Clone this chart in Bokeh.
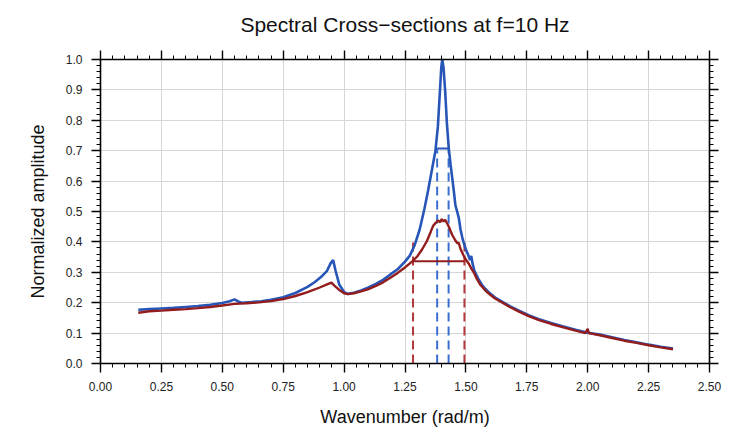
from bokeh.plotting import figure
from bokeh.models import LinearAxis, Range1d, FixedTicker, NumeralTickFormatter
from bokeh.embed import file_html
from bokeh.resources import INLINE

# ---------------- data ----------------
k_blue = [0.155, 0.20, 0.25, 0.30, 0.35, 0.40, 0.45, 0.50, 0.53, 0.55, 0.565, 0.58,
          0.62, 0.66, 0.70, 0.75, 0.80, 0.85, 0.88, 0.91, 0.93, 0.945, 0.955, 0.965,
          0.98, 1.00, 1.015, 1.04, 1.07, 1.10, 1.13, 1.16, 1.19, 1.22, 1.25, 1.27,
          1.29, 1.31, 1.33, 1.345, 1.36, 1.375, 1.385, 1.393, 1.399, 1.403, 1.408,
          1.415, 1.422, 1.43, 1.437, 1.444, 1.45, 1.457, 1.464, 1.471, 1.478, 1.485,
          1.49, 1.50, 1.51, 1.517, 1.522, 1.527, 1.535, 1.55, 1.565, 1.58, 1.60,
          1.62, 1.65, 1.68, 1.72, 1.76, 1.80, 1.85, 1.90, 1.95, 2.00, 2.05, 2.10,
          2.15, 2.20, 2.25, 2.30, 2.35]
a_blue = [0.177, 0.179, 0.181, 0.183, 0.186, 0.189, 0.193, 0.199, 0.205, 0.211, 0.204, 0.200,
          0.202, 0.205, 0.210, 0.218, 0.232, 0.252, 0.268, 0.288, 0.305, 0.330, 0.340, 0.305,
          0.260, 0.235, 0.229, 0.233, 0.240, 0.250, 0.262, 0.275, 0.293, 0.310, 0.335, 0.355,
          0.390, 0.440, 0.510, 0.570, 0.635, 0.700, 0.780, 0.890, 0.975, 1.000, 0.975,
          0.895, 0.790, 0.705, 0.655, 0.610, 0.570, 0.520, 0.500, 0.478, 0.440, 0.415,
          0.400, 0.375, 0.356, 0.340, 0.354, 0.330, 0.305, 0.280, 0.260, 0.245, 0.230,
          0.217, 0.203, 0.189, 0.173, 0.158, 0.146, 0.133, 0.122, 0.111, 0.101, 0.095, 0.086,
          0.077, 0.070, 0.062, 0.055, 0.049]

k_red = [0.155, 0.20, 0.25, 0.30, 0.35, 0.40, 0.45, 0.50, 0.55, 0.60, 0.65, 0.70,
         0.75, 0.80, 0.85, 0.90, 0.93, 0.948, 0.96, 0.98, 1.00, 1.015, 1.04, 1.07,
         1.10, 1.13, 1.16, 1.19, 1.22, 1.25, 1.28, 1.30, 1.32, 1.34, 1.355, 1.365,
         1.375, 1.385, 1.395, 1.40, 1.408, 1.415, 1.422, 1.43, 1.437, 1.445, 1.455,
         1.465, 1.47, 1.478, 1.49, 1.50, 1.512, 1.522, 1.532, 1.545, 1.56, 1.58,
         1.60, 1.62, 1.65, 1.68, 1.72, 1.76, 1.80, 1.85, 1.90, 1.95, 1.99, 2.00,
         2.005, 2.05, 2.10, 2.15, 2.20, 2.25, 2.30, 2.35]
a_red = [0.167, 0.172, 0.174, 0.177, 0.179, 0.182, 0.186, 0.191, 0.196, 0.198, 0.201, 0.205,
         0.212, 0.222, 0.235, 0.250, 0.260, 0.266, 0.256, 0.242, 0.231, 0.228, 0.231, 0.237,
         0.245, 0.255, 0.267, 0.282, 0.298, 0.316, 0.336, 0.352, 0.375, 0.403, 0.432, 0.452,
         0.462, 0.470, 0.465, 0.475, 0.467, 0.473, 0.462, 0.450, 0.436, 0.421, 0.407,
         0.395, 0.398, 0.377, 0.356, 0.341, 0.328, 0.313, 0.300, 0.278, 0.258, 0.240,
         0.226, 0.214, 0.200, 0.186, 0.170, 0.155, 0.143, 0.130, 0.119, 0.108, 0.100, 0.114,
         0.100, 0.093, 0.084, 0.075, 0.068, 0.060, 0.053, 0.047]

# half-power bandwidth markers
blue_band = [1.382, 1.429]
blue_level = 0.707
red_band = [1.283, 1.494]
red_level = 0.336
red_dash_top = 0.40

x_ticks = [0.0, 0.25, 0.5, 0.75, 1.0, 1.25, 1.5, 1.75, 2.0, 2.25, 2.5]
y_ticks = [0.0, 0.1, 0.2, 0.3, 0.4, 0.5, 0.6, 0.7, 0.8, 0.9, 1.0]

TITLE = "Spectral Cross\u2212sections at f=10 Hz"

BLUE = "#2756b8"
RED = "#931c1c"
BLUE_D = "#3a6fd0"
RED_D = "#b3383a"
FONT = "Liberation Sans"

p = figure(width=744, height=432, output_backend="svg", toolbar_location=None,
           x_range=Range1d(0, 2.5), y_range=Range1d(0, 1.0),
           min_border_left=100, min_border_right=35, min_border_top=59,
           min_border_bottom=69, background_fill_color="white",
           border_fill_color="white")
p.outline_line_color = None
p.title.text = ""
p.title.standoff = 0
p.title.visible = False

x_minor = [i * 0.05 for i in range(51)]
y_minor = [i * 0.02 for i in range(51)]

def style_axis(ax, show_labels):
    ax.axis_line_color = "black"
    ax.axis_line_width = 1.6
    ax.major_tick_line_color = "black"
    ax.major_tick_line_width = 1.4
    ax.minor_tick_line_color = "black"
    ax.minor_tick_line_width = 1.0
    ax.major_tick_out = 9
    ax.major_tick_in = 0
    ax.minor_tick_out = 4
    ax.minor_tick_in = 0
    ax.major_label_text_font = FONT
    ax.axis_label_text_font = FONT
    ax.axis_label_text_font_size = "18px"
    ax.axis_label_text_font_style = "normal"
    ax.axis_label_text_color = "#111111"
    if show_labels:
        ax.major_label_text_font_size = "12px"
        ax.major_label_text_color = "#222222"
    else:
        ax.major_label_text_font_size = "8px"
        ax.major_label_text_color = None
        ax.major_label_standoff = 0

xb = p.xaxis[0]
xb.ticker = FixedTicker(ticks=x_ticks, minor_ticks=x_minor)
xb.formatter = NumeralTickFormatter(format="0.00")
xb.axis_label = "Wavenumber (rad/m)"
style_axis(xb, True)
xb.major_label_standoff = 9
xb.axis_label_standoff = 13

yl = p.yaxis[0]
yl.ticker = FixedTicker(ticks=y_ticks, minor_ticks=y_minor)
yl.formatter = NumeralTickFormatter(format="0.0")
yl.axis_label = "Normalized amplitude"
style_axis(yl, True)
yl.major_label_standoff = 9
yl.axis_label_standoff = 15

# top axis: ticks only, carries the chart title as its label
xt = LinearAxis(ticker=FixedTicker(ticks=x_ticks, minor_ticks=x_minor))
style_axis(xt, False)
xt.axis_label = TITLE
xt.axis_label_text_font_size = "21px"
xt.axis_label_standoff = 15
p.add_layout(xt, "above")

yr = LinearAxis(ticker=FixedTicker(ticks=y_ticks, minor_ticks=y_minor))
style_axis(yr, False)
p.add_layout(yr, "right")

p.xgrid.ticker = FixedTicker(ticks=x_ticks)
p.ygrid.ticker = FixedTicker(ticks=y_ticks)
for g in (p.xgrid, p.ygrid):
    g.grid_line_color = "#d6d6d6"
    g.grid_line_width = 1

# dashed vertical markers
p.segment(x0=red_band, y0=[0, 0], x1=red_band, y1=[red_dash_top] * 2,
          line_color=RED_D, line_width=2, line_dash="9 5")
p.segment(x0=blue_band, y0=[0, 0], x1=blue_band, y1=[blue_level] * 2,
          line_color=BLUE_D, line_width=2, line_dash="9 5")

# curves
p.line(k_blue, a_blue, line_color=BLUE, line_width=2.6)
p.line(k_red, a_red, line_color=RED, line_width=2.4)

# half-power horizontal lines
p.segment(x0=[blue_band[0]], y0=[blue_level], x1=[blue_band[1]], y1=[blue_level],
          line_color=BLUE, line_width=2)
p.segment(x0=[red_band[0]], y0=[red_level], x1=[red_band[1]], y1=[red_level],
          line_color=RED, line_width=2)

open("out.html", "w").write(file_html(p, INLINE))
